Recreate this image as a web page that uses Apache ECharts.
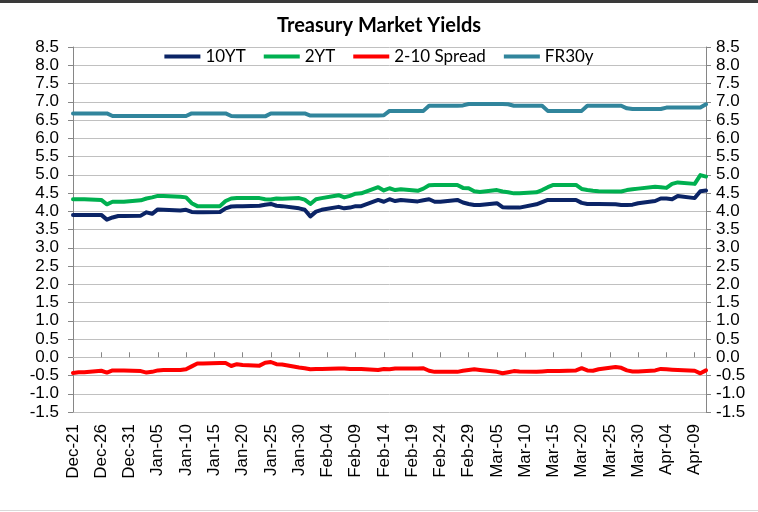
<!DOCTYPE html>
<html>
<head>
<meta charset="utf-8">
<script src="https://cdn.jsdelivr.net/npm/echarts@6/dist/echarts.min.js"></script>
<style>
    html, body { margin: 0; padding: 0; background: #fff; }
    .frame { position: relative; width: 758px; height: 512px; }
    #chart { position: absolute; left: 0; top: 0; width: 758px; height: 512px; }
    .frame_line { position: absolute; left: 0; top: 0; width: 758px; height: 511px; border-top: 3px solid #3a3a3a; border-bottom: 1px solid #d9d9d9; box-sizing: border-box; pointer-events: none; }
</style>
</head>
<body>
<div class="frame">
    <div id="chart"></div>
    <div class="frame_line"></div>
</div>
<script>
// trading days, Dec 21 2011 - Apr 11 2012
const tradeDates = [
    '2011-12-21', '2011-12-22', '2011-12-23', '2011-12-26', '2011-12-27', '2011-12-28', '2011-12-29', '2011-12-30',
    '2012-01-02', '2012-01-03', '2012-01-04', '2012-01-05', '2012-01-06',
    '2012-01-09', '2012-01-10', '2012-01-11', '2012-01-12', '2012-01-13',
    '2012-01-16', '2012-01-17', '2012-01-18', '2012-01-19', '2012-01-20',
    '2012-01-23', '2012-01-24', '2012-01-25', '2012-01-26', '2012-01-27',
    '2012-01-30', '2012-01-31', '2012-02-01', '2012-02-02', '2012-02-03',
    '2012-02-06', '2012-02-07', '2012-02-08', '2012-02-09', '2012-02-10',
    '2012-02-13', '2012-02-14', '2012-02-15', '2012-02-16', '2012-02-17',
    '2012-02-20', '2012-02-21', '2012-02-22', '2012-02-23', '2012-02-24',
    '2012-02-27', '2012-02-28', '2012-02-29', '2012-03-01', '2012-03-02',
    '2012-03-05', '2012-03-06', '2012-03-07', '2012-03-08', '2012-03-09',
    '2012-03-12', '2012-03-13', '2012-03-14', '2012-03-15', '2012-03-16',
    '2012-03-19', '2012-03-20', '2012-03-21', '2012-03-22', '2012-03-23',
    '2012-03-26', '2012-03-27', '2012-03-28', '2012-03-29', '2012-03-30',
    '2012-04-02', '2012-04-03', '2012-04-04', '2012-04-05', '2012-04-06',
    '2012-04-09', '2012-04-10', '2012-04-11'
]
const yield10 = [
    3.90, 3.90, 3.90, 3.90, 3.77, 3.83, 3.87, 3.87,
    3.88, 3.97, 3.93, 4.05, 4.04,
    4.02, 4.04, 3.98, 3.97, 3.97,
    3.98, 4.08, 4.13, 4.14, 4.14,
    4.15, 4.18, 4.20, 4.15, 4.14,
    4.08, 4.04, 3.86, 3.99, 4.04,
    4.12, 4.08, 4.10, 4.14, 4.14,
    4.31, 4.26, 4.33, 4.28, 4.31,
    4.27, 4.30, 4.33, 4.26, 4.26,
    4.31, 4.24, 4.20, 4.17, 4.17,
    4.22, 4.11, 4.10, 4.10, 4.10,
    4.19, 4.25, 4.31, 4.31, 4.31,
    4.31, 4.23, 4.20, 4.20, 4.20,
    4.19, 4.17, 4.17, 4.18, 4.22,
    4.28, 4.35, 4.35, 4.33, 4.42,
    4.36, 4.55, 4.57
]
const yield2 = [
    4.33, 4.33, 4.33, 4.31, 4.19, 4.26, 4.26, 4.26,
    4.30, 4.35, 4.38, 4.42, 4.42,
    4.40, 4.38, 4.22, 4.14, 4.14,
    4.14, 4.28, 4.35, 4.36, 4.36,
    4.36, 4.33, 4.32, 4.35, 4.34,
    4.36, 4.32, 4.20, 4.33, 4.36,
    4.44, 4.38, 4.42, 4.48, 4.49,
    4.66, 4.57, 4.63, 4.58, 4.60,
    4.56, 4.62, 4.71, 4.72, 4.72,
    4.72, 4.64, 4.63, 4.55, 4.53,
    4.58, 4.54, 4.52, 4.49, 4.49,
    4.52, 4.58, 4.66, 4.72, 4.72,
    4.72, 4.61, 4.58, 4.56, 4.55,
    4.54, 4.54, 4.58, 4.60, 4.62,
    4.67, 4.66, 4.64, 4.75, 4.79,
    4.75, 4.99, 4.95
]
const spread = [
    -0.43, -0.41, -0.41, -0.37, -0.42, -0.36, -0.36, -0.36,
    -0.38, -0.42, -0.40, -0.36, -0.35,
    -0.35, -0.33, -0.25, -0.17, -0.17,
    -0.16, -0.16, -0.24, -0.19, -0.21,
    -0.23, -0.15, -0.13, -0.19, -0.20,
    -0.28, -0.30, -0.33, -0.32, -0.32,
    -0.31, -0.31, -0.32, -0.32, -0.32,
    -0.35, -0.32, -0.33, -0.31, -0.31,
    -0.31, -0.30, -0.37, -0.40, -0.40,
    -0.40, -0.37, -0.35, -0.33, -0.35,
    -0.40, -0.44, -0.41, -0.38, -0.39,
    -0.40, -0.39, -0.38, -0.38, -0.38,
    -0.36, -0.30, -0.36, -0.37, -0.33,
    -0.27, -0.29, -0.36, -0.39, -0.39,
    -0.36, -0.32, -0.33, -0.34, -0.35,
    -0.37, -0.44, -0.36
]
const fr30 = [
    6.68, 6.68, 6.68, 6.68, 6.68, 6.61, 6.61, 6.61,
    6.61, 6.61, 6.61, 6.61, 6.61,
    6.61, 6.61, 6.68, 6.68, 6.68,
    6.68, 6.68, 6.61, 6.60, 6.60,
    6.60, 6.60, 6.68, 6.68, 6.68,
    6.68, 6.68, 6.62, 6.62, 6.62,
    6.62, 6.62, 6.62, 6.62, 6.62,
    6.62, 6.63, 6.75, 6.75, 6.75,
    6.75, 6.75, 6.89, 6.89, 6.89,
    6.89, 6.90, 6.94, 6.94, 6.94,
    6.94, 6.94, 6.93, 6.89, 6.89,
    6.89, 6.89, 6.75, 6.75, 6.75,
    6.75, 6.75, 6.89, 6.89, 6.89,
    6.89, 6.89, 6.82, 6.80, 6.80,
    6.80, 6.80, 6.84, 6.84, 6.84,
    6.84, 6.84, 6.93
]
const seriesNames = ['10YT', '2YT', '2-10 Spread', 'FR30y']
const seriesColors = ['#0B2466', '#00B050', '#FF0000', '#31859C']
const monthNames = ['Jan', 'Feb', 'Mar', 'Apr', 'May', 'Jun', 'Jul', 'Aug', 'Sep', 'Oct', 'Nov', 'Dec']

// 日期轴：按自然日铺开，周末留空
let dayKeys = []
let dayLabels = []
let t = Date.parse(tradeDates[0] + 'T00:00:00Z')
const tEnd = Date.parse(tradeDates[tradeDates.length - 1] + 'T00:00:00Z')
while (t <= tEnd) {
    let d = new Date(t)
    dayKeys.push(d.toISOString().slice(0, 10))
    dayLabels.push(monthNames[d.getUTCMonth()] + '-' + String(d.getUTCDate()).padStart(2, '0'))
    t += 86400000
}
function toDaily (values) {
    let out = dayKeys.map(() => null)
    tradeDates.forEach((key, i) => {
        out[dayKeys.indexOf(key)] = values[i]
    })
    return out
}
const seriesValues = [yield10, yield2, spread, fr30]

const axisFont = 'Liberation Sans, Arial, sans-serif'
const titleFont = 'Lato, Noto Sans, sans-serif'
const yAxisBase = {
    type: 'value',
    min: -1.5,
    max: 8.5,
    interval: 0.5,
    axisLine: { show: true, lineStyle: { color: '#868686' } },
    axisTick: { show: true, length: 5, lineStyle: { color: '#868686' } },
    axisLabel: { formatter: v => v.toFixed(1), fontSize: 17, color: '#000', fontFamily: axisFont }
}

let myChart = echarts.init(document.getElementById('chart'))
myChart.setOption({
    animation: false,
    title: {
        text: 'Treasury Market Yields',
        left: 'center',
        top: 11,
        textStyle: { fontSize: 20, fontWeight: 'bold', color: '#000', fontFamily: titleFont }
    },
    legend: {
        data: seriesNames,
        top: 43,
        left: 'center',
        icon: 'rect',
        itemWidth: 36,
        itemHeight: 4,
        itemGap: 18,
        textStyle: { fontSize: 17, color: '#000', fontFamily: titleFont }
    },
    grid: { left: 73, right: 52, top: 47, bottom: 100, containLabel: false },
    xAxis: [{
        type: 'category',
        data: dayLabels,
        boundaryGap: false,
        axisLine: { show: true, lineStyle: { color: '#bfbfbf' } },
        axisTick: { show: false },
        axisLabel: { interval: 4, rotate: 90, margin: 12, fontSize: 17, color: '#000', fontFamily: axisFont }
    }, {
        // 刻度线画在 -1.0 那条线上
        type: 'category',
        data: dayLabels,
        boundaryGap: false,
        position: 'bottom',
        offset: -18.25,
        axisLine: { show: false },
        axisTick: { show: true, inside: true, interval: 4, length: 5, lineStyle: { color: '#868686' } },
        axisLabel: { show: false }
    }],
    yAxis: [
        Object.assign({}, yAxisBase, {
            position: 'left',
            axisLabel: Object.assign({}, yAxisBase.axisLabel, { margin: 14 }),
            splitLine: { show: true, lineStyle: { color: '#c0c0c0' } }
        }),
        Object.assign({}, yAxisBase, {
            position: 'right',
            axisLabel: Object.assign({}, yAxisBase.axisLabel, { margin: 10 }),
            splitLine: { show: false }
        })
    ],
    series: seriesNames.map((name, i) => ({
        name: name,
        type: 'line',
        xAxisIndex: 0,
        yAxisIndex: 0,
        data: toDaily(seriesValues[i]),
        connectNulls: true,
        showSymbol: false,
        color: seriesColors[i],
        lineStyle: { width: 4, color: seriesColors[i], cap: 'round', join: 'round' }
    }))
})
</script>
</body>
</html>
